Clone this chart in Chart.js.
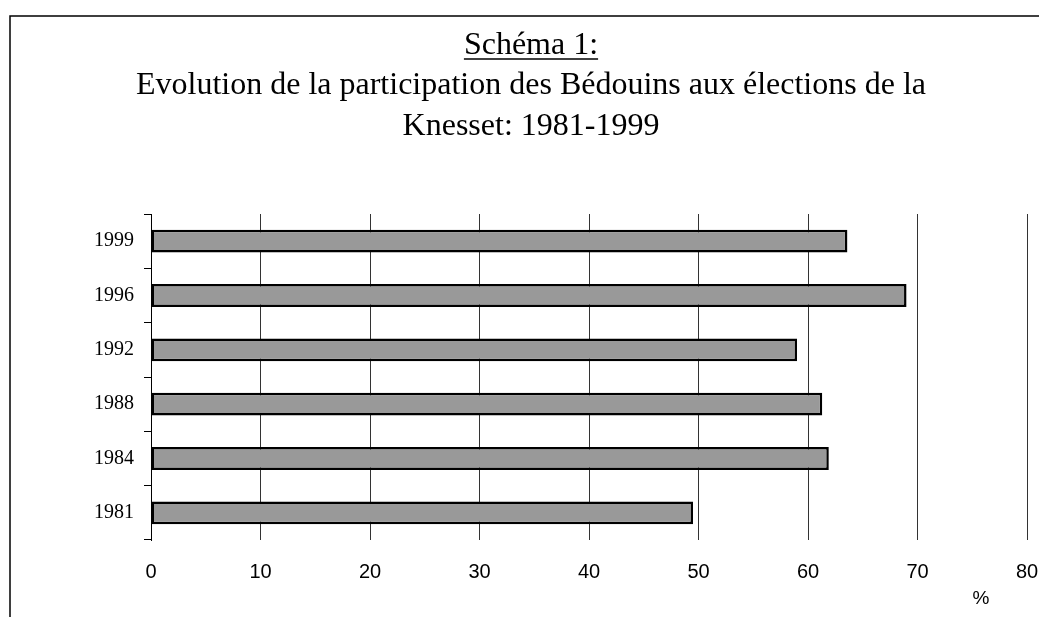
<!DOCTYPE html>
<html>
<head>
<meta charset="utf-8">
<script src="https://cdn.jsdelivr.net/npm/chart.js@4/dist/chart.umd.min.js"></script>
<style>
  html, body { margin: 0; padding: 0; background: #fff; }
  #wrap { width: 1039px; height: 617px; }
</style>
</head>
<body>
<div id="wrap"><canvas id="participationChart" width="1039" height="617"></canvas></div>
<script>
const years = ["1981", "1984", "1988", "1992", "1996", "1999"];
const participation = [49.5, 61.9, 61.3, 59.0, 69.0, 63.6];
const titleLines = [
  "Schéma 1:",
  "Evolution de la participation des Bédouins aux élections de la",
  "Knesset: 1981-1999"
];
const unitLabel = "%";

// frame, underline under "Schéma 1:" and the % label
const decorations = {
  id: "decorations",
  afterDraw(chart) {
    const ctx = chart.ctx;
    const area = chart.chartArea;
    ctx.save();
    ctx.strokeStyle = "#000";
    ctx.lineWidth = 1.5;
    ctx.beginPath();
    ctx.moveTo(10, 617);
    ctx.lineTo(10, 16);
    ctx.lineTo(1039, 16);
    ctx.stroke();

    const tb = chart.titleBlock;
    const font = chart.options.plugins.title.font;
    ctx.font = font.size + "px " + font.family;
    const w = ctx.measureText(titleLines[0]).width;
    const cx = (tb.left + tb.right) / 2;
    ctx.lineWidth = 1.5;
    ctx.beginPath();
    ctx.moveTo(cx - w / 2, 59);
    ctx.lineTo(cx + w / 2, 59);
    ctx.stroke();

    ctx.fillStyle = "#000";
    ctx.font = "19px 'Liberation Sans', Arial, sans-serif";
    ctx.textAlign = "center";
    ctx.textBaseline = "middle";
    ctx.fillText(unitLabel, area.right - 46, 599);
    ctx.restore();
  }
};

const ctx = document.getElementById("participationChart").getContext("2d");
new Chart(ctx, {
  type: "bar",
  data: {
    labels: years,
    datasets: [
      {
        data: participation,
        backgroundColor: "#999999",
        borderColor: "#000000",
        borderWidth: 2.5,
        borderSkipped: false,
        categoryPercentage: 1,
        barPercentage: 0.42
      }
    ]
  },
  options: {
    indexAxis: "y",
    responsive: false,
    animation: false,
    layout: { padding: { left: 35, right: 12, top: 0, bottom: 0 } },
    plugins: {
      legend: { display: false },
      tooltip: { enabled: false },
      title: {
        display: true,
        text: titleLines,
        color: "#000",
        font: { family: "'Liberation Serif', 'Times New Roman', serif", size: 32, weight: "normal", lineHeight: "40.5px" },
        padding: { top: 25, bottom: 67.5 }
      }
    },
    scales: {
      x: {
        min: 0,
        max: 80,
        ticks: {
          stepSize: 10,
          color: "#000",
          padding: 20,
          font: { family: "'Liberation Sans', Arial, sans-serif", size: 20 }
        },
        grid: { color: "#333", lineWidth: 1, drawTicks: false },
        border: { display: false },
        afterFit(scale) {
          scale.height = 77;
          scale.paddingLeft = 0;
          scale.paddingRight = 0;
        }
      },
      y: {
        reverse: true,
        ticks: {
          color: "#000",
          padding: 10,
          font: { family: "'Liberation Serif', 'Times New Roman', serif", size: 20 }
        },
        grid: { offset: true, drawOnChartArea: false, drawTicks: true, tickLength: 7, color: "#000" },
        border: { display: true, color: "#000", width: 1 },
        afterFit(scale) { scale.width = 116; }
      }
    }
  },
  plugins: [decorations]
});
</script>
</body>
</html>
